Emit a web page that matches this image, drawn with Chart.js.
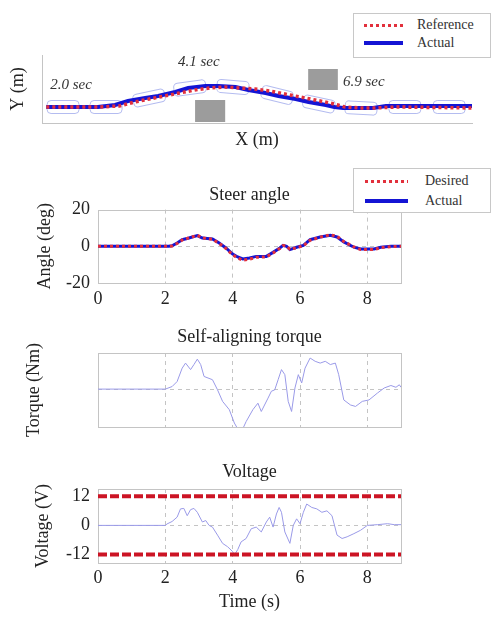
<!DOCTYPE html>
<html><head><meta charset="utf-8">
<script src="https://cdn.jsdelivr.net/npm/chart.js@4.4.0/dist/chart.umd.min.js"></script>
<style>
html,body{margin:0;padding:0;background:#fff;}
body{width:496px;height:620px;position:relative;overflow:hidden;font-family:'Liberation Serif','Times New Roman',serif;}
canvas{position:absolute;left:0;}
.legend{position:absolute;left:353px;width:138px;height:45px;background:#fff;border:1px solid #c8c8c8;box-sizing:border-box;z-index:5;}
.sample{position:absolute;}
.dot{height:3px;background:repeating-linear-gradient(90deg,#e2303c 0 3px,transparent 3px 6px);}
.solid{height:4px;background:#1414d4;}
.lab{position:absolute;font-size:14px;color:#333;line-height:16px;white-space:nowrap;}
</style></head>
<body>
<div class="legend" style="top:13px;">
  <div class="sample dot" style="left:10px;top:10px;width:39px;"></div>
  <div class="lab" style="left:63px;top:3px;">Reference</div>
  <div class="sample solid" style="left:10px;top:27px;width:39px;"></div>
  <div class="lab" style="left:63px;top:21px;">Actual</div>
</div>
<div class="legend" style="top:168px;">
  <div class="sample dot" style="left:11px;top:11px;width:43px;"></div>
  <div class="lab" style="left:71px;top:4px;">Desired</div>
  <div class="sample solid" style="left:11px;top:30px;width:43px;"></div>
  <div class="lab" style="left:71px;top:24px;">Actual</div>
</div>
<script>
// ---------- DATA ----------
// Trajectory (X, Y in m)
const refX = [1, 13.5, 18, 21.5, 25, 28.5, 32, 35.5, 39, 42.5, 46, 49.5, 53, 56.5, 60, 63.5, 67, 70.5, 74, 77.5, 83, 100];
const refY = [1.6, 1.6, 1.7, 2.1, 2.4, 2.7, 3.0, 3.3, 3.5, 3.6, 3.5, 3.4, 3.2, 2.9, 2.6, 2.3, 2.0, 1.6, 1.5, 1.5, 1.6, 1.5];
const actX = [1, 13, 17, 20, 24, 27, 31, 34, 38, 41, 45, 48, 52, 55, 59, 62, 66, 68, 70, 74, 77, 80, 83, 100];
const actY = [1.6, 1.6, 1.8, 2.2, 2.5, 2.7, 3.1, 3.5, 3.7, 3.7, 3.6, 3.3, 3.0, 2.7, 2.4, 2.1, 1.8, 1.6, 1.5, 1.5, 1.5, 1.7, 1.7, 1.7];
// vehicle poses along the path
const carX = [4.9, 14.9, 24.9, 34.4, 44.4, 54.7, 64.4, 74.2, 84.4, 94.7];
const carY = [1.6, 1.6, 2.5, 3.5, 3.6, 2.8, 1.9, 1.5, 1.6, 1.6];
const carHeading = [0, 0, -12, -8, 5, 14, 12, 3, 0, 0];
// obstacles [from, to]
const obstacleX = [[35.6, 42.6], [61.9, 68.8]];
const obstacleY = [[0.1, 2.3], [3.3, 5.4]];
// time annotations
const timeLabels = ['2.0 sec', '4.1 sec', '6.9 sec'];
const timeLabelX = [1.9, 31.6, 70.0];
const timeLabelY = [3.8, 6.1, 4.1];

// Steer angle (deg)
const steerTime = [0, 2.1, 2.2, 2.35, 2.5, 2.7, 2.95, 3.1, 3.4, 3.6, 3.8, 4.0, 4.15, 4.3, 4.5, 4.7, 5.0, 5.2, 5.4, 5.5, 5.6, 5.7, 5.9, 6.1, 6.3, 6.6, 6.9, 7.1, 7.3, 7.6, 7.8, 8.2, 8.4, 8.7, 9.0];
const steerActual = [0, 0, 0.3, 1.8, 3.6, 4.5, 5.8, 4.5, 4.0, 1.8, -0.9, -4.2, -5.8, -6.9, -6.4, -5.5, -5.5, -3.3, -0.9, 0.5, 0, -1.8, -0.5, 0.5, 3.6, 5.1, 6.0, 5.1, 2.4, -0.5, -1.5, -1.5, -0.5, 0, 0];
const steerDesired = [0, 0, 0.2, 1.5, 3.4, 4.6, 6.0, 4.6, 3.8, 1.6, -1.2, -4.6, -6.4, -7.6, -7.0, -6.0, -5.8, -3.6, -1.2, 0.4, 0.2, -1.6, -0.8, 0.3, 3.3, 5.0, 6.3, 5.4, 2.6, -0.3, -1.8, -1.8, -0.7, -0.2, 0];
const steerTicks = [-20, 0, 20];

// Self-aligning torque (relative units, no tick labels)
const torqueTime = [0, 2.0, 2.2, 2.35, 2.5, 2.6, 2.75, 2.85, 2.95, 3.05, 3.15, 3.4, 3.55, 3.7, 3.9, 4.05, 4.15, 4.3, 4.4, 4.6, 4.75, 4.85, 5.05, 5.15, 5.25, 5.35, 5.45, 5.55, 5.65, 5.75, 5.85, 5.95, 6.05, 6.15, 6.3, 6.45, 6.6, 6.75, 6.9, 7.05, 7.15, 7.3, 7.5, 7.65, 7.85, 8.05, 8.3, 8.5, 8.7, 8.85, 8.95, 9.0];
const torque = [0, 0, 0.7, 2.1, 5.8, 7.2, 5.4, 6.8, 8.3, 6.8, 3.5, 2.6, -0.2, -3.4, -5.7, -9.4, -11, -11, -9, -5.7, -3.9, -6.2, -2.5, -0.6, -0.2, 2.6, 5.4, 4, -3.4, -6.2, 0.3, 4, 1.7, 5.8, 8.6, 7.7, 7.2, 7.7, 6.8, 7.2, 4, -3, -4.4, -4.8, -3.4, -3, -1.1, 0.3, 1, 0.5, 1.2, 0.5];

// Voltage (V)
const voltTime = [0, 2.0, 2.05, 2.2, 2.35, 2.45, 2.55, 2.65, 2.75, 2.85, 2.95, 3.1, 3.2, 3.3, 3.4, 3.55, 3.7, 3.85, 4.0, 4.05, 4.15, 4.25, 4.4, 4.55, 4.7, 4.85, 5.0, 5.1, 5.2, 5.3, 5.38, 5.45, 5.55, 5.7, 5.8, 5.9, 6.0, 6.1, 6.2, 6.35, 6.5, 6.65, 6.8, 6.95, 7.1, 7.25, 7.4, 7.6, 7.8, 8.0, 8.3, 8.6, 8.8, 9.0];
const voltage = [0, 0, 0.6, 1.6, 3.4, 6.8, 7.0, 4.0, 6.5, 7.0, 5.4, 1.4, 2.0, 0, -0.7, -4.0, -7.4, -8.8, -10.8, -12.2, -10.0, -6.8, -5.4, -1.4, -0.7, -2.7, 1.4, 3.4, -0.7, 4.7, 7.4, 5.4, -2.7, -7.4, 0, 2.7, 0.7, 5.4, 8.8, 7.4, 6.8, 5.4, 6.0, 4.0, -4.0, -5.4, -4.7, -3.4, -2.0, 0, 0.3, 0.7, 0.3, 0.3];
const voltLimits = [12, -12];
const voltTicks = [-12, 0, 12];

const timeTicks = [0, 2, 4, 6, 8];
const timeRange = [0, 9];

// ---------- RENDER ----------
const FONT = "'Liberation Serif', 'Times New Roman', serif";
Chart.defaults.font.family = FONT;
Chart.defaults.color = '#222';
Chart.defaults.animation = false;

const pts = (xs, ys) => xs.map((x, i) => ({x, y: ys[i]}));

function makeCanvas(top, height) {
  const c = document.createElement('canvas');
  c.width = 496; c.height = height;
  c.style.top = top + 'px';
  c.style.width = '496px'; c.style.height = height + 'px';
  document.body.appendChild(c);
  return c;
}

const framePlugin = {
  id: 'frame',
  beforeDatasetsDraw(chart) {
    const {ctx, chartArea: a} = chart;
    ctx.save();
    ctx.strokeStyle = '#c4c4c4';
    ctx.lineWidth = 1;
    ctx.strokeRect(Math.round(a.left) + 0.5, Math.round(a.top) + 0.5, Math.round(a.right - a.left), Math.round(a.bottom - a.top));
    ctx.restore();
  }
};

const sceneryPlugin = {
  id: 'scenery',
  beforeDatasetsDraw(chart) {
    const {ctx, scales: {x, y}} = chart;
    ctx.save();
    ctx.fillStyle = '#9c9c9c';
    obstacleX.forEach((ox, i) => {
      const l = x.getPixelForValue(ox[0]), r = x.getPixelForValue(ox[1]);
      const t = y.getPixelForValue(obstacleY[i][1]), b = y.getPixelForValue(obstacleY[i][0]);
      ctx.fillRect(l, t, r - l, b - t);
    });
    ctx.strokeStyle = '#b4bcf0';
    ctx.lineWidth = 1;
    carX.forEach((cx, i) => {
      const px = x.getPixelForValue(cx), py = y.getPixelForValue(carY[i]);
      ctx.save();
      ctx.translate(px, py);
      ctx.rotate(carHeading[i] * Math.PI / 180);
      ctx.beginPath();
      ctx.roundRect(-16, -6.5, 32, 13, 4);
      ctx.stroke();
      ctx.restore();
    });
    ctx.restore();
  },
  afterDatasetsDraw(chart) {
    const {ctx, scales: {x, y}} = chart;
    ctx.save();
    ctx.font = 'italic 15px ' + FONT;
    ctx.fillStyle = '#333';
    ctx.textAlign = 'left';
    ctx.textBaseline = 'middle';
    timeLabels.forEach((t, i) => ctx.fillText(t, x.getPixelForValue(timeLabelX[i]), y.getPixelForValue(timeLabelY[i])));
    ctx.restore();
  }
};

// Trajectory chart
new Chart(makeCanvas(0, 151), {
  type: 'line',
  data: {datasets: [
    {data: pts(refX, refY), borderColor: '#e2303c', borderWidth: 3.5, borderDash: [3, 3], pointRadius: 0},
    {data: pts(actX, actY), borderColor: '#1414d4', borderWidth: 4, pointRadius: 0}
  ]},
  options: {
    responsive: false, animation: false,
    layout: {padding: {top: 55, right: 24, left: 0, bottom: 0}},
    plugins: {legend: {display: false}, tooltip: {enabled: false}},
    scales: {
      x: {type: 'linear', min: 0, max: 100, grid: {display: false}, border: {color: '#c4c4c4'},
          ticks: {display: false}, title: {display: true, text: 'X (m)', font: {size: 18}, padding: 0},
          afterFit(s) { s.height = 28; }},
      y: {type: 'linear', min: 0, max: 6.8, grid: {display: false}, border: {color: '#c4c4c4'},
          ticks: {display: false}, title: {display: true, text: 'Y (m)', font: {size: 18}, padding: {top: 7, bottom: 0}},
          afterFit(s) { s.width = 42; }}
    }
  },
  plugins: [sceneryPlugin]
});

function timeChart(canvas, o) {
  return new Chart(canvas, {
    type: 'line',
    data: {datasets: o.datasets},
    options: {
      responsive: false, animation: false,
      layout: {padding: {top: 0, right: 95, left: 0, bottom: 0}},
      plugins: {legend: {display: false}, tooltip: {enabled: false}},
      scales: {
        // top axis used only to carry the panel title, centred over the plot area
        xt: {type: 'linear', position: 'top', min: timeRange[0], max: timeRange[1],
             grid: {display: false}, border: {display: false}, ticks: {display: false},
             title: {display: true, text: o.title, font: {size: 18}, padding: 0, color: '#222'},
             afterFit(s) { s.height = 21.6 + o.titlePad; }},
        x: {type: 'linear', min: timeRange[0], max: timeRange[1],
            afterBuildTicks(s) { s.ticks = timeTicks.map(v => ({value: v})); },
            grid: {drawTicks: false, color: c => (c.tick && c.tick.value !== 0) ? '#c4c4c4' : 'rgba(0,0,0,0)'},
            border: {display: false, dash: [4, 4]},
            ticks: {display: o.xLabels, font: {size: 18}, padding: o.xPad, color: '#222', maxRotation: 0, callback: v => String(v)},
            title: {display: !!o.xTitle, text: o.xTitle || '', font: {size: 18}, padding: 0, color: '#222'},
            afterFit(s) { s.height = o.xHeight; }},
        y: {type: 'linear', min: o.ymin, max: o.ymax,
            afterBuildTicks(s) { s.ticks = o.yticks.map(v => ({value: v})); },
            grid: {drawTicks: false, color: c => (c.tick && c.tick.value === 0) ? '#c4c4c4' : 'rgba(0,0,0,0)'},
            border: {display: false, dash: [4, 4]},
            ticks: {display: o.yLabels, font: {size: 18}, padding: 8, color: '#222', callback: v => String(v)},
            title: {display: true, text: o.yTitle, font: {size: 18}, padding: {top: o.yTitlePad, bottom: 0}, color: '#222'},
            afterFit(s) { s.width = 98; }}
      }
    },
    plugins: [framePlugin]
  });
}

// Steer angle
timeChart(makeCanvas(184, 139), {
  title: 'Steer angle', titlePad: 4, yTitle: 'Angle (deg)', yTitlePad: 34,
  ymin: -20, ymax: 20, yticks: steerTicks, yLabels: true,
  xLabels: true, xPad: 5, xHeight: 40,
  datasets: [
    {data: pts(steerTime, steerDesired), borderColor: '#e2303c', borderWidth: 3, borderDash: [3, 3], pointRadius: 0},
    {data: pts(steerTime, steerActual), borderColor: '#1414d4', borderWidth: 3, pointRadius: 0}
  ]
});

// Self-aligning torque
timeChart(makeCanvas(326, 130), {
  title: 'Self-aligning torque', titlePad: 5.4, yTitle: 'Torque (Nm)', yTitlePad: 23,
  ymin: -10.5, ymax: 10, yticks: [0], yLabels: false,
  xLabels: false, xPad: 0, xHeight: 29,
  datasets: [
    {data: pts(torqueTime, torque), borderColor: '#9a9ae8', borderWidth: 1, pointRadius: 0}
  ]
});

// Voltage
timeChart(makeCanvas(461, 152), {
  title: 'Voltage', titlePad: 6.4, yTitle: 'Voltage (V)', yTitlePad: 32,
  ymin: -15.5, ymax: 15, yticks: voltTicks, yLabels: true,
  xLabels: true, xPad: 4, xHeight: 50, xTitle: 'Time (s)',
  datasets: [
    {data: pts(timeRange, [voltLimits[0], voltLimits[0]]), borderColor: '#cc1424', borderWidth: 4, borderDash: [9, 3], pointRadius: 0},
    {data: pts(timeRange, [voltLimits[1], voltLimits[1]]), borderColor: '#cc1424', borderWidth: 4, borderDash: [9, 3], pointRadius: 0},
    {data: pts(voltTime, voltage), borderColor: '#9a9ae8', borderWidth: 1, pointRadius: 0}
  ]
});
</script>
</body></html>
